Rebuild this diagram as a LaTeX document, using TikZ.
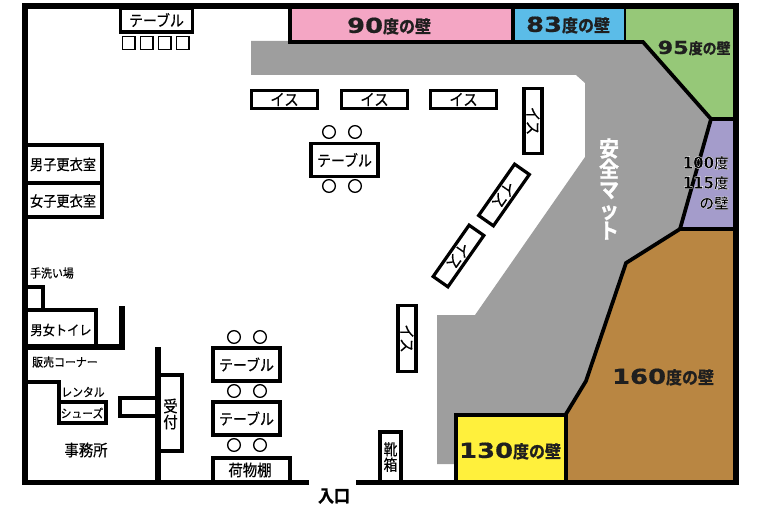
\documentclass[tikz,border=0pt]{standalone}
\usepackage{fontspec}
\setmainfont{Noto Sans CJK JP}[FakeStretch=0.9,FakeBold=0.35]
\newfontfamily\wallcjk{Noto Sans CJK JP Bold}[FakeStretch=0.92,FakeBold=1.2]
\newfontfamily\wallnum{DejaVu Sans Bold}[FakeStretch=1.25,FakeBold=0.6]
\newfontfamily\halocjk{Noto Sans CJK JP Bold}[FakeBold=2]
\newfontfamily\halonum{DejaVu Sans Bold}[FakeStretch=0.9,FakeBold=2]
\newcommand{\wallno}[1]{{\wallnum\fontsize{15.5}{15.5}\selectfont #1}}
\newcommand{\halono}[1]{{\halonum\fontsize{12.5}{12.5}\selectfont #1}}
\newcommand{\halowhite}{\special{pdf:code 1 1 1 RG}}
\definecolor{pinkwall}{HTML}{F4A6C4}
\definecolor{bluewall}{HTML}{5BBCE8}
\definecolor{greenwall}{HTML}{96C878}
\definecolor{purplewall}{HTML}{A49CCB}
\definecolor{brownwall}{HTML}{B98642}
\definecolor{yellowwall}{HTML}{FFF03C}
\definecolor{matgray}{HTML}{9E9E9E}
\tikzset{
    wall/.style={line width=4.4pt},
    partition/.style={line width=3pt},
    area/.style={draw=black,line width=2.8pt,line join=miter},
    chair/.style={draw,line width=2.4pt,fill=white,inner sep=0pt,minimum width=49pt,minimum height=13.5pt,font=\fontsize{12}{12}\selectfont},
    desk/.style={draw,line width=2.6pt,fill=white,inner sep=0pt,minimum width=50pt,minimum height=25pt,font=\fontsize{11.6}{12}\selectfont},
    seat/.style={draw,line width=1pt,fill=white,circle,inner sep=0pt,minimum size=9.5pt},
    stool/.style={draw,line width=1pt,fill=white,inner sep=0pt,minimum size=9.5pt},
    room/.style={inner sep=0pt,font=\fontsize{#1}{#1}\selectfont},
    room/.default=11,
    walltext/.style={inner sep=0pt,text=black!88,font=\wallcjk\fontsize{13}{13}\selectfont},
    halotext/.style={inner sep=0pt,anchor=east,font=\halocjk\fontsize{11}{11}\selectfont}
}

\begin{document}
\begin{tikzpicture}[x=0.75pt,y=-0.75pt]
    \useasboundingbox (0,0) rectangle (766,516);
    % Draw safety mat
    \fill [matgray] (251,41) -- (643,41) -- (711,119) -- (680,229) -- (626,263) -- (586,381)
        -- (566,415) -- (456,415) -- (456,464) -- (437,464) -- (437,315) -- (475,315) -- (585,157)
        -- (585,83) -- (576,75) -- (251,75) -- cycle;
    \node (matlabel) [align=center,inner sep=0pt,text=white,font=\wallcjk\fontsize{16.2}{15.4}\selectfont]
        at (609,189) {安\\全\\マ\\ッ\\ト};

    % Draw coloured walls
    \draw [area,fill=pinkwall] (290,6) rectangle (513,42);
    \draw [area,fill=bluewall] (513,6) rectangle (626,42);
    \draw [area,fill=greenwall] (626,6) -- (736,6) -- (736,119) -- (711,119) -- (643,42) -- (626,42);
    \draw [area,fill=purplewall] (711,119) -- (736,119) -- (736,229) -- (680,229) -- cycle;
    \draw [area,fill=brownwall] (680,229) -- (736,229) -- (736,482) -- (566,482) -- (566,414)
        -- (586,381) -- (626,263) -- cycle;
    \draw [area,fill=yellowwall] (456,415) rectangle (566,482);

    \node (wallA) [walltext] at (389,26) {\wallno{90}度の壁};
    \node (wallB) [walltext] at (568,25) {\wallno{83}度の壁};
    \node (wallC) [walltext,scale=0.87] at (694,48) {\wallno{95}度の壁};
    \node (wallD) [halotext] at (729,163) {\halowhite\halono{100}度};
    \node (wallE) [halotext] at (729,183) {\halowhite\halono{115}度};
    \node (wallF) [halotext] at (729,203) {\halowhite の壁};
    \node (wallG) [walltext] at (663,377) {\wallno{160}度の壁};
    \node (wallH) [walltext] at (510,451) {\wallno{130}度の壁};

    % Draw outer wall, the gap is the entrance
    \draw [wall] (309,482.5) -- (25,482.5) -- (25,6) -- (736,6) -- (736,482.5) -- (356,482.5);
    \node (entrance) [inner sep=0pt,font=\wallcjk\fontsize{13}{13}\selectfont] at (334,496) {入口};

    % Draw benches
    \node (benchA) [chair] at (284.5,99.5) {イス};
    \node (benchB) [chair] at (374.5,99.5) {イス};
    \node (benchC) [chair] at (463.5,99.5) {イス};
    \node (benchD) [chair,rotate=-90] at (533,121) {イス};
    \node (benchE) [chair,rotate=-125,minimum width=47pt] at (504,195) {イス};
    \node (benchF) [chair,rotate=-125,minimum width=47pt] at (458.5,256) {イス};
    \node (benchG) [chair,rotate=-90] at (407,338.5) {イス};

    % Draw tables with their seats
    \node (tableA) [desk,minimum width=54pt,minimum height=18pt] at (156.5,20) {テーブル};
    \node (tableB) [desk] at (344.5,160) {テーブル};
    \node (tableC) [desk] at (246.5,364.5) {テーブル};
    \node (tableD) [desk] at (246.5,418.5) {テーブル};
    \foreach \x in {128.5,146.5,164.5,182.5}
        \node [stool] at (\x,43) {};
    \foreach \x in {329,355}
        \foreach \y in {132,186}
            \node [seat] at (\x,\y) {};
    \foreach \x in {234,260}
        \foreach \y in {337,391,445}
            \node [seat] at (\x,\y) {};

    % Draw rooms on the left
    \draw [partition] (25,145) -- (101.5,145) -- (101.5,217) -- (25,217);
    \draw [partition] (25,183.5) -- (101.5,183.5);
    \node (changeA) [room=11] at (63,164.5) {男子更衣室};
    \node (changeB) [room=11] at (63,201) {女子更衣室};
    \node (wash) [room=9.1] at (52,273) {手洗い場};
    \draw [partition] (25,287) -- (43,287) -- (43,310);
    \draw [partition] (25,310) -- (96,310) -- (96,347);
    \draw [wall] (25,347) -- (122,347) -- (122,306);
    \node (toilet) [room=10.2] at (61,330) {男女トイレ};
    \node (shop) [room=9.1] at (65,362) {販売コーナー};
    \draw [partition] (25,382) -- (59,382) -- (59,402);
    \node (rental) [room=9] at (83,392) {レンタル};
    \draw [partition] (59,402) rectangle (106,423);
    \node (shoes) [room=9] at (82,413) {シューズ};
    \node (office) [room=12] at (86,450) {事務所};

    % Draw reception
    \draw [wall] (158,347) -- (158,482);
    \draw [partition] (158,375) -- (182,375) -- (182,451) -- (158,451);
    \draw [partition] (158,398) -- (120,398) -- (120,416) -- (158,416);
    \node (desk) [room=12,align=center] at (170.5,414) {受\\付};

    % Draw shelves
    \draw [partition] (213,482) -- (213,457.5) -- (290,457.5) -- (290,482);
    \node (luggage) [room=12] at (250,470) {荷物棚};
    \draw [partition] (380,482) -- (380,432) -- (401,432) -- (401,482);
    \node (shoebox) [room=11.6,align=center] at (390.5,457) {靴\\箱};
\end{tikzpicture}
\end{document}
